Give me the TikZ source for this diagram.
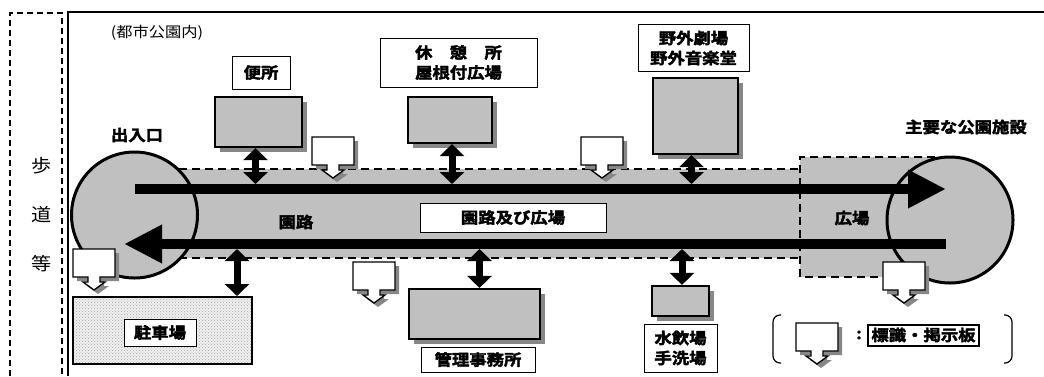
\documentclass[tikz,border=0pt]{standalone}
\usepackage{fontspec}
\newfontfamily\jp{Noto Sans CJK JP}[FakeStretch=1.12, BoldFont={Noto Sans CJK JP Bold}, BoldFeatures={FakeBold=2.5}]
\usetikzlibrary{arrows.meta, shadows, patterns}
\definecolor{boxgray}{RGB}{192,192,192}
\definecolor{shgray}{RGB}{135,135,135}
\tikzset{
  gbox/.style={draw, line width=2.2pt, fill=boxgray, inner sep=0pt,
    drop shadow={shadow xshift=5pt, shadow yshift=-5pt, fill=shgray, opacity=1}},
  lbl/.style={draw, line width=1pt, fill=white, inner sep=0pt, align=center,
    font=\jp\bfseries\fontsize{15.5}{20}\selectfont},
  txt/.style={inner sep=0pt, font=\jp\bfseries\fontsize{15.5}{20}\selectfont},
  sidetxt/.style={inner sep=0pt, font=\jp\fontsize{18}{20}\selectfont},
  dbl/.style={line width=7pt, arrows={Triangle[length=12pt,width=24pt]-Triangle[length=12pt,width=24pt]}},
  bigarrow/.style={line width=10pt, arrows={-Triangle[length=38pt,width=36pt]}},
  roadline/.style={line width=2pt, dash pattern=on 8pt off 5pt},
  sidedash/.style={line width=1.5pt, dash pattern=on 6pt off 4pt},
  sign/.pic={
    \fill[shgray] (4,4) -- (46,4) -- (46,32) -- (31,32) -- (31,37) -- (36,37) -- (25,45) -- (14,37) -- (19,37) -- (19,32) -- (4,32) -- cycle;
    \draw[line width=1.3pt, fill=white] (0,0) -- (42,0) -- (42,28) -- (27,28) -- (27,33) -- (32,33) -- (21,41) -- (10,33) -- (15,33) -- (15,28) -- (0,28) -- cycle;
  }
}
\begin{document}
\begin{tikzpicture}[x=1pt, y=-1pt]
\useasboundingbox (0,0) rectangle (1044,376);
% sidewalk and frame
\draw[sidedash] (10,376) -- (10,13) -- (62,13) -- (62,376);
\draw[line width=2pt] (68,376) -- (68,12) -- (1044,12);
\node[sidetxt] (ho) at (42,166) {歩};
\node[sidetxt] (do) at (42,215) {道};
\node[sidetxt] (to) at (42,264) {等};
\node[inner sep=0pt, font=\jp\fontsize{14.5}{16}\selectfont] (urban) at (157,33) {(都市公園内)};
% road and plaza
\fill[boxgray] (140,169) rectangle (800,258);
\fill[boxgray] (800,157) rectangle (940,277);
\draw[roadline] (140,169) -- (800,169);
\draw[roadline] (140,258) -- (800,258);
\draw[roadline] (935,157) -- (800,157) -- (800,277) -- (890,277);
% circles
\node[draw, circle, line width=3pt, fill=boxgray, minimum size=126pt, inner sep=0pt] (entc) at (134.5,215) {};
\node[draw, circle, line width=3pt, fill=boxgray, minimum size=126pt, inner sep=0pt] (mainc) at (950,220) {};
% main arrows
\coordinate (ta) at (135,189);
\coordinate (tb) at (946,189);
\coordinate (ba) at (946,244);
\coordinate (bb) at (124,244);
\draw[bigarrow] (ta) -- (tb);
\draw[bigarrow] (ba) -- (bb);
\coordinate (topedge) at (0,184);
\coordinate (botedge) at (0,249);
% texts
\node[txt] (entrance) at (137,135) {出入口};
\node[txt] (mainfac) at (966,127) {主要な公園施設};
\node[txt] (enro) at (296,222) {園路};
\node[txt] (hiroba) at (852,218) {広場};
\node[lbl, minimum width=186pt, minimum height=29pt] (roadL) at (513,217.5) {園路及び広場};
% upper facilities
\node[lbl, minimum width=58pt, minimum height=33pt] (benjoL) at (261,72.5) {便所};
\node[gbox, minimum width=87pt, minimum height=50pt] (benjo) at (258.5,122) {};
\node[lbl, minimum width=157pt, minimum height=49pt] (kyuL) at (458.5,62.5) {休　憩　所\\屋根付広場};
\node[gbox, minimum width=84pt, minimum height=46pt] (kyu) at (450,120) {};
\node[lbl, minimum width=111pt, minimum height=47pt] (yagaiL) at (693.5,48) {野外劇場\\野外音楽堂};
\node[gbox, minimum width=85pt, minimum height=76pt] (yagai) at (695.5,116) {};
% lower facilities
\node[draw, line width=2pt, minimum width=179pt, minimum height=67pt, inner sep=0pt,
  preaction={fill=gray!12}, pattern=crosshatch dots, pattern color=gray!70] (parking) at (162.5,330.5) {};
\node[lbl, minimum width=72pt, minimum height=27pt] (parkingL) at (160,332.5) {駐車場};
\node[gbox, minimum width=131pt, minimum height=50pt] (kanri) at (474.5,314) {};
\node[lbl, minimum width=114pt, minimum height=25pt] (kanriL) at (478,359.5) {管理事務所};
\node[gbox, minimum width=57pt, minimum height=30pt] (mizu) at (680.5,301) {};
\node[lbl, minimum width=73pt, minimum height=48pt] (mizuL) at (680.5,348) {水飲場\\手洗場};
% signs
\pic at (312,137) {sign};
\pic at (581,137) {sign};
\pic at (73,249) {sign};
\pic at (353,262) {sign};
\pic at (883,262) {sign};
\pic at (796,323) {sign};
% double arrows
\draw[dbl] ([xshift=-3pt]benjo.south) -- ([xshift=-3pt]benjo.south |- topedge);
\draw[dbl] ([xshift=2pt]kyu.south) -- ([xshift=2pt]kyu.south |- topedge);
\draw[dbl] ([xshift=-4pt]yagai.south) -- ([xshift=-4pt]yagai.south |- topedge);
\coordinate (pa) at (237,249);
\draw[dbl] (pa) -- (pa |- parking.north);
\draw[dbl] ([xshift=5pt]kanri.north |- botedge) -- ([xshift=5pt]kanri.north);
\draw[dbl] ([xshift=1.5pt]mizu.north |- botedge) -- ([xshift=1.5pt]mizu.north);
% legend
\draw[line width=1.2pt, rounded corners=7pt] (781,315) -| (773,363) -- (781,363);
\draw[line width=1.2pt, rounded corners=7pt] (1004,315) -| (1012,363) -- (1004,363);
\node[txt] (colon) at (859,335) {:};
\node[lbl, line width=2pt, minimum width=111pt, minimum height=21pt] (legendL) at (923.5,335) {標識・掲示板};
\end{tikzpicture}
\end{document}
